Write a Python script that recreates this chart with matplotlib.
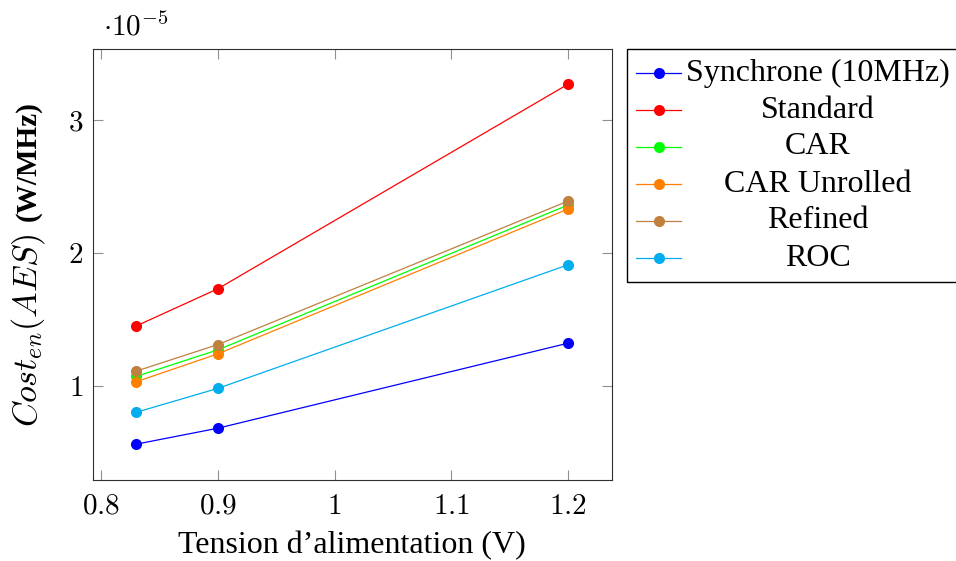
import matplotlib
matplotlib.use("Agg")
import matplotlib.pyplot as plt
from matplotlib.lines import Line2D
from matplotlib.patches import Rectangle
from matplotlib.ticker import FixedLocator, FuncFormatter

plt.rcParams['mathtext.fontset'] = 'cm'
plt.rcParams['font.family'] = ['Liberation Serif', 'DejaVu Serif']

# Supply voltage (V)
voltages = [0.83, 0.9, 1.2]

# Energy cost per MHz, in units of 1e-5 W/MHz
scale = 1e-5
synchrone = [0.56, 0.68, 1.32]
standard = [1.45, 1.73, 3.27]
car = [1.07, 1.27, 2.36]
car_unrolled = [1.03, 1.24, 2.33]
refined = [1.11, 1.31, 2.39]
roc = [0.80, 0.98, 1.91]

series_names = ["Synchrone (10MHz)", "Standard", "CAR", "CAR Unrolled", "Refined", "ROC"]
series_values = [synchrone, standard, car, car_unrolled, refined, roc]
series_colors = ["#0000FF", "#FF0000", "#00FF00", "#FF8000", "#BF8040", "#00AEEF"]

x_ticks = [0.8, 0.9, 1.0, 1.1, 1.2]
y_ticks = [1, 2, 3]

W, H = 956, 561
fig = plt.figure(figsize=(W / 100, H / 100), dpi=100)
ax = fig.add_axes([93 / W, 1 - 480 / H, (612 - 93) / W, (480 - 49) / H])

for name, vals, col in zip(series_names, series_values, series_colors):
    ax.plot(voltages, [v * scale for v in vals], color=col, lw=0.9,
            marker='o', markersize=8, markeredgewidth=0, label=name)

ax.set_xlim(0.7929, 1.2377)
ax.set_ylim(0.29 * scale, 3.535 * scale)

ax.xaxis.set_major_locator(FixedLocator(x_ticks))
ax.yaxis.set_major_locator(FixedLocator([t * scale for t in y_ticks]))


def fmt_x(v, pos):
    s = f"{v:.1f}"
    if s.endswith(".0"):
        s = s[:-2]
    return f"${s}$"


ax.xaxis.set_major_formatter(FuncFormatter(fmt_x))
ax.yaxis.set_major_formatter(FuncFormatter(lambda v, pos: f"${v / scale:.0f}$"))

ax.tick_params(direction='in', length=7, width=0.8, color='#909090',
               top=True, right=True, labelsize=21)
ax.tick_params(axis='x', pad=10)
ax.tick_params(axis='y', pad=7)
for sp in ax.spines.values():
    sp.set_linewidth(0.8)
    sp.set_color('#303030')

fig.text(103 / W, 1 - 27 / H, r"$\cdot 10^{-5}$", fontsize=21, ha='left', va='center')

fig.text(352 / W, 1 - 546 / H, "Tension d\u2019alimentation (V)", fontsize=23,
         ha='center', va='center')
fig.text(28 / W, 1 - 330 / H, r"$Cost_{en}(AES)$", fontsize=24.5, rotation=90,
         ha='center', va='center')
fig.text(28 / W, 1 - 161 / H, "(W/MHz)", fontsize=21, rotation=90,
         fontweight='bold', ha='center', va='center')

# Legend box with centered entry labels
fig.patches.append(Rectangle((627 / W, 1 - 282 / H), (960 - 627) / W, (282 - 49) / H,
                             transform=fig.transFigure, fill=False,
                             edgecolor='black', linewidth=1.0, clip_on=False))
row_y = [73, 110, 147, 184, 221, 258]
for name, col, ry in zip(series_names, series_colors, row_y):
    yf = 1 - ry / H
    fig.lines.append(Line2D([636 / W, 681 / W], [yf, yf], transform=fig.transFigure,
                            color=col, lw=0.9))
    fig.lines.append(Line2D([659 / W], [yf], transform=fig.transFigure, color=col,
                            marker='o', markersize=8, markeredgewidth=0))
    fig.text(818 / W, yf, name, fontsize=23, ha='center', va='center')

fig.savefig("out.png", dpi=100)
